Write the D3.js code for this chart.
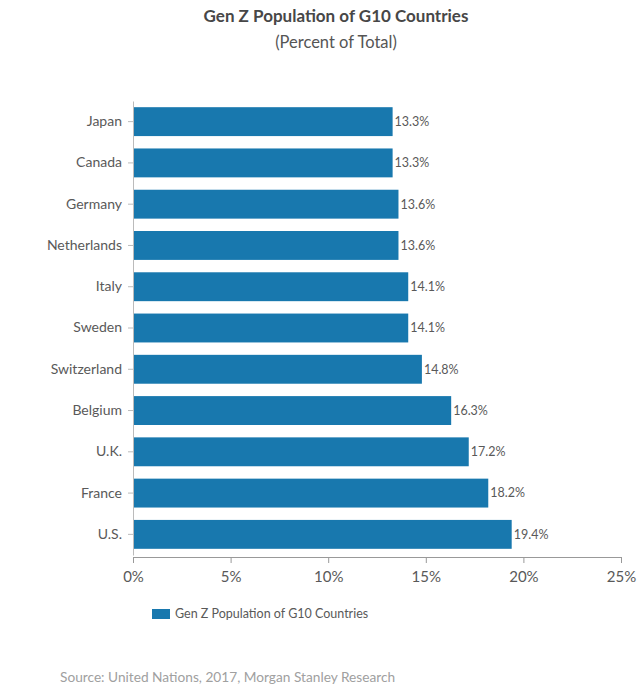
<!DOCTYPE html>
<html><head><meta charset="utf-8">
<script src="https://cdn.jsdelivr.net/npm/d3@7"></script>
<style>body{margin:0;background:#fff;} svg{display:block;font-family:Lato,"Open Sans",sans-serif;}</style>
</head><body>
<svg id="c" width="640" height="687"></svg>
<script>
const countries = ["Japan","Canada","Germany","Netherlands","Italy","Sweden","Switzerland","Belgium","U.K.","France","U.S."];
const values = [13.3,13.3,13.6,13.6,14.1,14.1,14.8,16.3,17.2,18.2,19.4];
const xTicks = [0,5,10,15,20,25];
const title = "Gen Z Population of G10 Countries";
const subtitle = "(Percent of Total)";
const legendLabel = "Gen Z Population of G10 Countries";
const source = "Source: United Nations, 2017, Morgan Stanley Research";

const svg = d3.select("#c");
const color = "#1878ae";
const x = d3.scaleLinear().domain([0,25]).range([133,621]);
const y = d3.scaleBand().domain(countries).range([101,555]).paddingInner(0.3).paddingOuter(0.15);

svg.append("text").attr("x",336).attr("y",22).attr("text-anchor","middle")
  .attr("font-size",17).attr("font-weight","bold").attr("fill","#474747").text(title);
svg.append("text").attr("x",336).attr("y",48).attr("text-anchor","middle")
  .attr("font-size",16.5).attr("fill","#555").text(subtitle);

svg.selectAll("rect.bar").data(values).join("rect").attr("class","bar")
  .attr("x",x(0)).attr("y",(d,i)=>y(countries[i])).attr("height",y.bandwidth())
  .attr("width",d=>x(d)-x(0)).attr("fill",color);

svg.selectAll("text.val").data(values).join("text").attr("class","val")
  .attr("x",d=>x(d)+2).attr("y",(d,i)=>y(countries[i])+y.bandwidth()/2).attr("dy","0.35em")
  .attr("font-size",12.5).attr("fill","#595959").text(d=>d.toFixed(1)+"%");

const yAxis = svg.append("g").attr("transform",`translate(${x(0)},0)`)
  .call(d3.axisLeft(y).tickSize(5).tickPadding(6).tickSizeOuter(0));
yAxis.select(".domain").attr("stroke","#bbb");
yAxis.selectAll(".tick line").attr("stroke","#bbb");
yAxis.selectAll(".tick text").attr("font-size",14).attr("fill","#595959").attr("font-family","Lato,'Open Sans',sans-serif");

const xAxis = svg.append("g").attr("transform",`translate(0,557)`)
  .call(d3.axisBottom(x).tickValues(xTicks).tickFormat(d=>d+"%").tickSize(6).tickSizeOuter(0).tickPadding(8));
xAxis.select(".domain").attr("stroke","#999");
xAxis.selectAll(".tick line").attr("stroke","#999");
xAxis.selectAll(".tick text").attr("font-size",15).attr("fill","#595959").attr("font-family","Lato,'Open Sans',sans-serif");

svg.append("rect").attr("x",152).attr("y",609).attr("width",18).attr("height",10).attr("fill",color);
svg.append("text").attr("x",175).attr("y",614).attr("dy","0.35em").attr("font-size",12.5).attr("fill","#595959").text(legendLabel);

svg.append("text").attr("x",60).attr("y",682).attr("font-size",13.7).attr("fill","#a0a0a0").text(source);
</script>
</body></html>
